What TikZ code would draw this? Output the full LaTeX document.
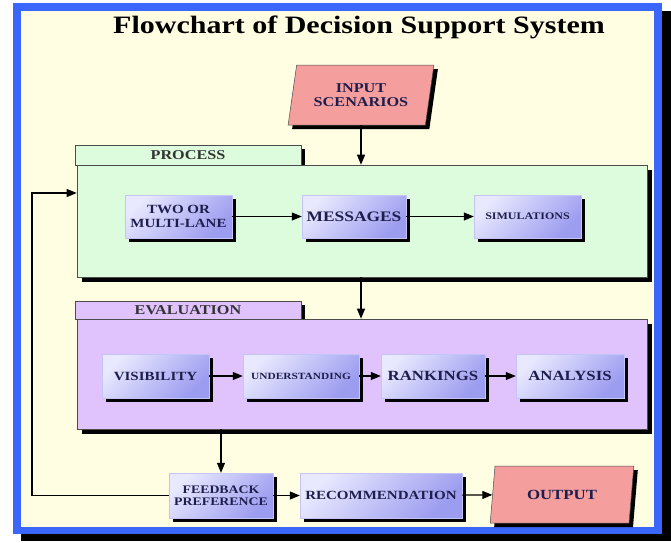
\documentclass[tikz,border=0pt]{standalone}
\usepackage{fontspec}
\setmainfont{Liberation Serif}[FakeStretch=1.2]
\usetikzlibrary{arrows.meta,shapes.geometric,shadows}
\definecolor{frameblue}{HTML}{3A66FC}
\definecolor{cream}{HTML}{FFFEE2}
\definecolor{procgreen}{HTML}{DDFCDD}
\definecolor{evallilac}{HTML}{E0C2FC}
\definecolor{pinkio}{HTML}{F59E9E}
\definecolor{boxlight}{HTML}{E8E8FF}
\definecolor{boxdark}{HTML}{9C9CF0}
\definecolor{navytext}{HTML}{1E1E4E}
\begin{document}
\begin{tikzpicture}[x=1pt,y=-1pt,
    shadowed/.style={drop shadow={shadow xshift=4pt,shadow yshift=-4pt,opacity=1,fill=black}},
    step box/.style={shadowed,draw=boxdark!60!white,line width=0.4pt,inner sep=0pt,
      top color=boxlight,bottom color=boxdark,shading angle=45,
      text=navytext,align=center},
    stage/.style={drop shadow={shadow xshift=5pt,shadow yshift=-5pt,opacity=1,fill=black},
      draw=black!70,line width=0.6pt,inner sep=0pt},
    tab/.style={shadowed,draw=black!70,line width=0.6pt,inner sep=0pt,
      minimum width=226,text=black!80,font=\bfseries\fontsize{13.5}{14}\selectfont},
    io/.style={shadowed,draw=black!70,line width=0.5pt,fill=pinkio,trapezium,
      trapezium left angle=75,trapezium right angle=105,trapezium stretches=true,
      inner sep=0pt,text=navytext,align=center},
    flow/.style={-{Triangle[length=10pt,width=8pt]},line width=1.1pt}]
  \useasboundingbox (0,0) rectangle (671,542);
  % frame
  \fill[white] (0,0) rectangle (671,542);
  \fill[black] (21,11) rectangle (671,541);
  \fill[frameblue] (13,3) rectangle (662,534);
  \fill[cream] (21,11) rectangle (654,527);
  \node (title) at (359,27) {\bfseries\fontsize{25}{27}\selectfont Flowchart of Decision Support System};
  % input
  \node[io,minimum width=146,minimum height=60,font=\bfseries\fontsize{13.5}{14.5}\selectfont]
    (input) at (361,95) {INPUT\\SCENARIOS};
  % process
  \node[tab,fill=procgreen,minimum height=20] (proctab) at (188,155) {PROCESS};
  \node[stage,fill=procgreen,minimum width=570,minimum height=112] (proc) at (362,221) {};
  \draw
    (178.5,216.5) node[step box,minimum width=107,minimum height=43,
      font=\bfseries\fontsize{12.5}{13.5}\selectfont] (lane) {TWO OR\\MULTI-LANE}
    (354,216.5) node[step box,minimum width=104,minimum height=43,
      font=\bfseries\fontsize{14.5}{15}\selectfont] (msg) {MESSAGES}
    (527.5,216.5) node[step box,minimum width=107,minimum height=43,
      font=\bfseries\fontsize{10}{11}\selectfont] (sim) {SIMULATIONS};
  % evaluation
  \node[tab,fill=evallilac,minimum height=18] (evaltab) at (188,310) {EVALUATION};
  \node[stage,fill=evallilac,minimum width=570,minimum height=110] (eval) at (362,374) {};
  \draw
    (155.5,376) node[step box,minimum width=107,minimum height=44,
      font=\bfseries\fontsize{12.5}{13}\selectfont] (vis) {VISIBILITY}
    (301,376) node[step box,minimum width=116,minimum height=44,
      font=\bfseries\fontsize{9.5}{10}\selectfont] (und) {UNDERSTANDING}
    (433,376) node[step box,minimum width=104,minimum height=44,
      font=\bfseries\fontsize{14}{15}\selectfont] (rank) {RANKINGS}
    (570,376) node[step box,minimum width=108,minimum height=44,
      font=\bfseries\fontsize{14}{15}\selectfont] (ana) {ANALYSIS};
  % results
  \draw
    (221,495.5) node[step box,minimum width=104,minimum height=45,
      font=\bfseries\fontsize{11.5}{12.5}\selectfont] (fb) {FEEDBACK\\PREFERENCE}
    (381,495.5) node[step box,minimum width=162,minimum height=45,
      font=\bfseries\fontsize{12.5}{13}\selectfont] (rec) {RECOMMENDATION};
  \node[io,minimum width=144,minimum height=57,font=\bfseries\fontsize{14}{15}\selectfont]
    (out) at (562,494.5) {OUTPUT};
  \coordinate (loop) at (32,193);
  \begin{scope}[flow]
    \draw (input.south) to (input.south |- proc.north);
    \draw (lane) to (msg);
    \draw (msg) to (sim);
    \draw (proc.south -| input.south) to (eval.north -| input.south);
    \draw (vis) to (und);
    \draw (und) to (rank);
    \draw (rank) to (ana);
    \draw (eval.south -| fb.north) to (fb.north);
    \draw (fb) to (rec);
    \draw (rec) to (out);
    \draw (fb.west) -| (loop) -- (loop -| proc.west);
  \end{scope}
\end{tikzpicture}
\end{document}
